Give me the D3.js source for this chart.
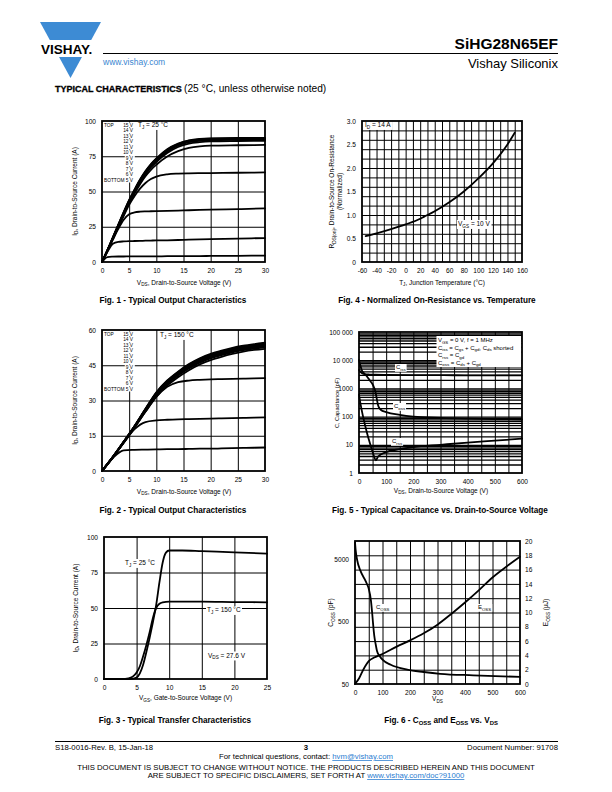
<!DOCTYPE html>
<html><head><meta charset="utf-8">
<script src="https://cdn.jsdelivr.net/npm/d3@7"></script>
<style>body{margin:0;background:#fff}</style>
</head><body>
<svg id="page" width="612" height="792" xmlns="http://www.w3.org/2000/svg"></svg>
<script>
// ---------------- DATA ----------------
// Fig 1: output characteristics, TJ = 25 C
const fig1Vds = [0,1,2,3,4,5,6,7,8,9,10,12,14,16,18,20,25,30];
const fig1_15V = [0,8.5,17.5,26.5,35.5,44,51.5,58.5,64.5,69.5,73.5,80,84,86.3,87.3,87.7,88,88];
const fig1_14V = [0,8.4,17.4,26.3,35.2,43.7,51.1,58.1,64.1,69.1,73.1,79.6,83.7,86,87,87.4,87.7,87.7];
const fig1_13V = [0,8.3,17.2,26.1,34.9,43.4,50.8,57.7,63.7,68.7,72.7,79.2,83.3,85.7,86.7,87.1,87.4,87.4];
const fig1_12V = [0,8.2,17,25.8,34.6,43,50.4,57.3,63.3,68.3,72.3,78.8,83,85.4,86.4,86.8,87.1,87.1];
const fig1_11V = [0,8.2,16.9,25.6,34.3,42.7,50,56.9,62.9,67.9,71.9,78.4,82.6,85,86,86.4,86.7,86.8];
const fig1_10V = [0,8.1,16.7,25.3,33.9,42.2,49.4,56.2,62.1,67,70.9,77.3,81.6,84,85,85.5,85.8,86];
const fig1_9V  = [0,8,16.5,25,33.5,41.7,48.7,55.2,60.8,65.4,69,74.8,78.6,80.9,82,82.5,82.8,83];
const fig1_8V  = [0,8,16.3,24.6,32.8,40.5,46.8,52,56,58.8,60.6,62.2,62.7,62.9,63,63.1,63.3,63.5];
const fig1_7V  = [0,7.8,15.8,23.5,30,33.8,35.2,35.7,35.9,36,36.1,36.3,36.5,36.7,36.9,37.1,37.5,38];
const fig1_6V  = [0,7.2,13,14.3,14.6,14.8,14.9,15,15.1,15.2,15.3,15.4,15.6,15.8,16,16.2,16.6,17];
const fig1_5V  = [0,3.5,3.8,3.9,3.9,4,4,4,4,4,4,4.1,4.1,4.2,4.2,4.3,4.4,4.5];
const gateLabels = ["15 V","14 V","13 V","12 V","11 V","10 V","9 V","8 V","7 V","6 V","5 V"];

// Fig 2: output characteristics, TJ = 150 C
const fig2Vds = [0,2,4,6,8,10,12,14,16,18,20,22,24,26,28,30];
const fig2_15V = [0,6,12.5,19.2,26.5,33.5,38.5,42.3,45.5,48,49.8,51.2,52.4,53.3,54,54.6];
const fig2_14V = [0,6,12.5,19.2,26.4,33.3,38.3,42,45.2,47.7,49.5,50.9,52.1,53,53.7,54.3];
const fig2_13V = [0,6,12.4,19.1,26.3,33.1,38.1,41.8,44.9,47.4,49.2,50.6,51.8,52.7,53.4,54];
const fig2_12V = [0,6,12.4,19,26.2,32.9,37.9,41.5,44.6,47.1,48.9,50.3,51.5,52.4,53.1,53.7];
const fig2_11V = [0,5.9,12.3,18.9,26,32.7,37.6,41.2,44.3,46.8,48.6,50,51.2,52.1,52.8,53.4];
const fig2_10V = [0,5.9,12.3,18.8,25.8,32.4,37.3,40.9,44,46.5,48.3,49.7,50.9,51.8,52.5,53];
const fig2_9V  = [0,5.9,12.2,18.7,25.6,32.1,37,40.6,43.6,46.1,47.9,49.3,50.5,51.4,52.1,52.6];
const fig2_8V  = [0,5.8,12.1,18.5,25.3,31.6,36.3,39.9,42.9,45.4,47.2,48.6,49.8,50.8,51.5,52];
const fig2_7V  = [0,5.8,12,18.5,25.2,31.5,35.8,37.8,38.5,38.8,39,39.1,39.2,39.3,39.4,39.5];
const fig2_6V  = [0,5.8,12,17.8,20.8,21.5,21.8,22,22.1,22.2,22.3,22.4,22.5,22.6,22.7,22.8];
const fig2_5V  = [0,5.5,8.8,9,9.1,9.2,9.3,9.3,9.4,9.5,9.5,9.6,9.7,9.8,9.9,10];

// Fig 3: transfer characteristics
const fig3Vgs25  = [0,4,4.5,5,5.5,6,6.5,7,7.5,8,8.5,9,9.5,10,12,15,20,25];
const fig3Id25   = [0,0,0.2,1,4,10,19,29,40,52,68,82,89,90.5,90.5,90,89.2,88.3];
const fig3Vgs150 = [0,3,3.5,4,4.5,5,5.5,6,6.5,7,7.5,8,8.5,9,10,15,20,25];
const fig3Id150  = [0,0,0.2,0.8,2,4.5,9,16,24,33,43,50,53,54,54.5,54.5,54.2,54];

// Fig 4: normalized on-resistance vs temperature
const fig4Tj   = [-55,-40,-20,0,20,25,40,60,80,100,120,140,150];
const fig4Rnorm= [0.55,0.61,0.7,0.8,0.92,0.96,1.08,1.27,1.5,1.78,2.1,2.5,2.75];

// Fig 5: capacitance vs VDS
const fig5CissV = [0,10,20,40,60,100,200,300,400,500,600];
const fig5Ciss  = [4500,3500,3200,3100,3050,3000,2950,2950,2900,2900,2900];
const fig5CossV = [0,5,10,20,30,40,50,55,60,65,70,75,80,100,150,200,300,400,500,600];
const fig5Coss  = [10000,6500,4500,3300,2600,1900,1400,1100,800,450,260,200,175,145,115,100,90,85,82,80];
const fig5CrssV = [0,5,15,30,45,55,62,70,100,150,200,300,400,500,600];
const fig5Crss  = [600,300,100,25,8,4,2.8,3.8,5.5,7,8.3,10,12,14,16.5];
const fig5YTicks = [1,10,100,1000,10000,100000];
const fig5YLabels = ["1","10","100","1000","10 000","100 000"];

// Fig 6: Coss and Eoss vs VDS
const fig6CossV = [0,2,8,20,40,50,58,63,66,70,75,80,90,100,130,190,250,310,430,600];
const fig6Coss  = [9500,7400,4900,3300,2200,1700,1100,650,450,300,220,170,140,123,102,85,78,73,69,65];
const fig6EossV = [0,15,30,50,70,100,150,200,250,300,350,400,450,500,550,600];
const fig6Eoss  = [0,0.8,2.0,3.2,3.7,4.2,5.2,6.1,7.1,8.3,9.8,11.4,13.1,14.9,16.4,17.8];

// ---------------- HELPERS ----------------
const FONT = "'Liberation Sans', Arial, Helvetica, sans-serif";
const svg = d3.select("#page").attr("font-family", FONT);
svg.append("rect").attr("width",612).attr("height",792).attr("fill","#fff");

function label(parent, x, y, parts, o = {}) {
  const fs = o.fs || 6;
  const t = parent.append("text").attr("x", x).attr("y", y)
    .attr("font-size", fs).attr("font-family", FONT)
    .attr("text-anchor", o.anchor || "start")
    .attr("font-weight", o.weight || "normal")
    .attr("fill", o.fill || "#000");
  if (o.rotate) t.attr("transform", `rotate(${o.rotate},${x},${y})`);
  let shift = 0;
  (typeof parts === "string" ? [parts] : parts).forEach(p => {
    const sub = Array.isArray(p);
    const target = sub ? fs * 0.3 : 0;
    const ts = t.append("tspan").text(sub ? p[0] : p).attr("font-size", sub ? fs * 0.72 : fs);
    if (target - shift !== 0) ts.attr("dy", target - shift);
    shift = target;
  });
  if (o.bg) {
    const b = t.node().getBBox();
    parent.insert("rect", () => t.node())
      .attr("x", b.x - 1).attr("y", b.y).attr("width", b.width + 2).attr("height", b.height)
      .attr("fill", "#fff");
  }
  return t;
}

function chart(c) {
  const g = svg.append("g");
  const x = c.x.range([c.L, c.R]);
  const y = c.y.range([c.B, c.T]);
  g.append("rect").attr("x", c.L).attr("y", c.T).attr("width", c.R - c.L).attr("height", c.B - c.T).attr("fill", "#fff");
  g.append("g").attr("transform", `translate(0,${c.B})`)
    .call(d3.axisBottom(x).tickValues(c.xGrid).tickSize(-(c.B - c.T)).tickFormat(""))
    .call(s => { s.select(".domain").remove(); s.selectAll("line").attr("stroke", "#000").attr("stroke-width", c.gxw || 1); });
  const gy = c.yGridScale || y;
  g.append("g").attr("transform", `translate(${c.L},0)`)
    .call(d3.axisLeft(gy).tickValues(c.yGrid).tickSize(-(c.R - c.L)).tickFormat(""))
    .call(s => { s.select(".domain").remove(); s.selectAll("line").attr("stroke", "#000").attr("stroke-width", c.gyw || 1); });
  (c.series || []).forEach(s => {
    const ys = s.scale || y;
    const line = d3.line().x(d => x(d[0])).y(d => ys(d[1])).curve(d3.curveMonotoneX);
    g.append("path").datum(d3.zip(s.x, s.y)).attr("d", line)
      .attr("fill", "none").attr("stroke", "#000").attr("stroke-width", s.w || 1.8)
      .attr("stroke-linejoin", "round").attr("stroke-linecap", "round");
  });
  if (c.labels) c.labels(g, x, y);
  g.append("rect").attr("x", c.L).attr("y", c.T).attr("width", c.R - c.L).attr("height", c.B - c.T)
    .attr("fill", "none").attr("stroke", "#000").attr("stroke-width", 1.8);
  const styleTicks = s => { s.select(".domain").remove(); s.selectAll("text").attr("font-size", 6.6).attr("font-family", FONT).attr("fill", "#000"); };
  g.append("g").attr("transform", `translate(0,${c.B})`)
    .call(d3.axisBottom(x).tickValues(c.xTicks).tickSize(0).tickPadding(c.xPad || 6).tickFormat(c.xFmt || (d => d)))
    .call(styleTicks);
  g.append("g").attr("transform", `translate(${c.L},0)`)
    .call(d3.axisLeft(y).tickValues(c.yTicks).tickSize(0).tickPadding(c.yPad || 6).tickFormat(c.yFmt || (d => d)))
    .call(styleTicks);
  if (c.y2) {
    g.append("g").attr("transform", `translate(${c.R},0)`)
      .call(d3.axisRight(c.y2).tickValues(c.y2Ticks).tickSize(0).tickPadding(5))
      .call(styleTicks);
  }
  return g;
}

const AT = 6.5;   // axis title size
const CAP = 8.2;  // caption size

// ---------------- HEADER ----------------
const head = svg.append("g");
head.append("polygon").attr("points", "40,22 101,22 70.5,78").attr("fill", "#3d8bd4");
head.append("rect").attr("x", 36).attr("y", 40).attr("width", 70).attr("height", 17).attr("fill", "#fff");
label(head, 41, 53.5, "VISHAY.", { fs: 13.5, weight: "bold" });
head.append("line").attr("x1", 103).attr("x2", 558).attr("y1", 53.5).attr("y2", 53.5).attr("stroke", "#000").attr("stroke-width", 1);
label(head, 103, 64.5, "www.vishay.com", { fs: 8.5, fill: "#3b86d0" });
label(head, 558, 49, "SiHG28N65EF", { fs: 15.5, weight: "bold", anchor: "end" });
label(head, 558, 68, "Vishay Siliconix", { fs: 13, anchor: "end" });
label(head, 55, 92, "TYPICAL CHARACTERISTICS", { fs: 9, weight: "bold" })
  .attr("stroke", "#000").attr("stroke-width", 0.3);
label(head, 184, 92, "(25 °C, unless otherwise noted)", { fs: 10.2 });

// ---------------- FIG 1 ----------------
const f1s = [fig1_15V, fig1_14V, fig1_13V, fig1_12V, fig1_11V, fig1_10V, fig1_9V, fig1_8V, fig1_7V, fig1_6V, fig1_5V];
function legendList(g, top) {
  label(g, 104, top, "TOP", { fs: 4.8, bg: true });
  gateLabels.forEach((t, i) => label(g, 133, top + i * 5.5, t, { fs: 4.8, anchor: "end", bg: true }));
  label(g, 104, top + 10 * 5.5, "BOTTOM", { fs: 4.8, bg: true });
}
chart({
  L: 102, R: 265, T: 121, B: 262,
  x: d3.scaleLinear().domain([0, 30]), y: d3.scaleLinear().domain([0, 100]),
  xGrid: [5, 10, 15, 20, 25], yGrid: [25, 50, 75],
  xTicks: [0, 5, 10, 15, 20, 25, 30], yTicks: [0, 25, 50, 75, 100],
  series: f1s.map(v => ({ x: fig1Vds, y: v })),
  labels: g => { legendList(g, 126.5); label(g, 138, 127, ["T", ["J"], " = 25 °C"], { fs: 6.5, bg: true }); }
});
label(svg, 76.5, 191.5, ["I", ["D"], ", Drain-to-Source Current (A)"], { fs: AT, anchor: "middle", rotate: -90 });
label(svg, 184, 284.5, ["V", ["DS"], ", Drain-to-Source Voltage (V)"], { fs: AT, anchor: "middle" });
label(svg, 173, 302.5, "Fig. 1 - Typical Output Characteristics", { fs: CAP, weight: "bold", anchor: "middle" });

// ---------------- FIG 2 ----------------
const f2s = [fig2_15V, fig2_14V, fig2_13V, fig2_12V, fig2_11V, fig2_10V, fig2_9V, fig2_8V, fig2_7V, fig2_6V, fig2_5V];
chart({
  L: 102, R: 265, T: 330, B: 471,
  x: d3.scaleLinear().domain([0, 30]), y: d3.scaleLinear().domain([0, 60]),
  xGrid: [5, 10, 15, 20, 25], yGrid: [15, 30, 45],
  xTicks: [0, 5, 10, 15, 20, 25, 30], yTicks: [0, 15, 30, 45, 60],
  series: f2s.map(v => ({ x: fig2Vds, y: v })),
  labels: g => { legendList(g, 335.5); label(g, 160, 337, ["T", ["J"], " = 150 °C"], { fs: 6.5, bg: true }); }
});
label(svg, 76.5, 400.5, ["I", ["D"], ", Drain-to-Source Current (A)"], { fs: AT, anchor: "middle", rotate: -90 });
label(svg, 184, 493.5, ["V", ["DS"], ", Drain-to-Source Voltage (V)"], { fs: AT, anchor: "middle" });
label(svg, 173, 512.5, "Fig. 2 - Typical Output Characteristics", { fs: CAP, weight: "bold", anchor: "middle" });

// ---------------- FIG 3 ----------------
chart({
  L: 104, R: 267, T: 537, B: 679,
  x: d3.scaleLinear().domain([0, 25]), y: d3.scaleLinear().domain([0, 100]),
  xGrid: [5, 10, 15, 20], yGrid: [25, 50, 75],
  xTicks: [0, 5, 10, 15, 20, 25], yTicks: [0, 25, 50, 75, 100],
  series: [{ x: fig3Vgs25, y: fig3Id25 }, { x: fig3Vgs150, y: fig3Id150 }],
  labels: g => {
    label(g, 125, 565, ["T", ["J"], " = 25 °C"], { fs: 6.5, bg: true });
    label(g, 207, 612, ["T", ["J"], " = 150 °C"], { fs: 6.5, bg: true });
    label(g, 208, 657.5, ["V", ["DS"], " = 27.6 V"], { fs: 6.5, bg: true });
  }
});
label(svg, 77.5, 608, ["I", ["D"], ", Drain-to-Source Current (A)"], { fs: AT, anchor: "middle", rotate: -90 });
label(svg, 185.5, 700, ["V", ["GS"], ", Gate-to-Source Voltage (V)"], { fs: AT, anchor: "middle" });
label(svg, 175, 722.5, "Fig. 3 - Typical Transfer Characteristics", { fs: CAP, weight: "bold", anchor: "middle" });

// ---------------- FIG 4 ----------------
chart({
  L: 362, R: 522, T: 121, B: 262,
  x: d3.scaleLinear().domain([-60, 160]), y: d3.scaleLinear().domain([0, 3]),
  xGrid: d3.range(-50, 160, 10), yGrid: d3.range(1, 15).map(i => i * 0.2),
  xTicks: d3.range(-60, 161, 20), yTicks: [0, 0.5, 1, 1.5, 2, 2.5, 3],
  yFmt: d => d === 0 ? "0" : d3.format(".1f")(d),
  series: [{ x: fig4Tj, y: fig4Rnorm }],
  labels: g => {
    label(g, 365, 127, ["I", ["D"], " = 14 A"], { fs: 6.5, bg: true });
    label(g, 458, 226, ["V", ["GS"], " = 10 V"], { fs: 6.5, bg: true });
  }
});
label(svg, 334, 191.5, ["R", ["DS(on)"], ", Drain-to-Source On-Resistance"], { fs: AT, anchor: "middle", rotate: -90 });
label(svg, 342, 191.5, "(Normalized)", { fs: AT, anchor: "middle", rotate: -90 });
label(svg, 442, 284.5, ["T", ["J"], ", Junction Temperature (°C)"], { fs: AT, anchor: "middle" });
label(svg, 437, 302.5, "Fig. 4 -  Normalized On-Resistance vs. Temperature", { fs: CAP, weight: "bold", anchor: "middle" });

// ---------------- FIG 5 ----------------
const y5 = d3.scaleLog().domain([1, 100000]);
chart({
  L: 359, R: 522, T: 332, B: 473,
  x: d3.scaleLinear().domain([0, 600]), y: y5,
  xGrid: d3.range(50, 600, 50), yGrid: y5.ticks().filter(v => v > 1 && v < 100000), gyw: 1.3,
  xTicks: [0, 100, 200, 300, 400, 500, 600], yTicks: fig5YTicks,
  yFmt: d => fig5YLabels[fig5YTicks.indexOf(d)],
  series: [{ x: fig5CissV, y: fig5Ciss }, { x: fig5CossV, y: fig5Coss }, { x: fig5CrssV, y: fig5Crss }],
  labels: g => {
    g.append("rect").attr("x", 436.5).attr("y", 336).attr("width", 85).attr("height", 31).attr("fill", "#fff");
    label(g, 438, 342, ["V", ["GS"], " = 0 V, f = 1 MHz"], { fs: 6 });
    label(g, 438, 349.5, ["C", ["iss"], " = C", ["gs"], " + C", ["gd"], ", C", ["ds"], " shorted"], { fs: 6 });
    label(g, 438, 357, ["C", ["rss"], " = C", ["gd"]], { fs: 6 });
    label(g, 438, 364.5, ["C", ["oss"], " = C", ["ds"], " + C", ["gd"]], { fs: 6 });
    label(g, 396, 369, ["C", ["iss"]], { fs: 6, bg: true });
    label(g, 394, 408, ["C", ["oss"]], { fs: 6, bg: true });
    label(g, 392, 443, ["C", ["rss"]], { fs: 6, bg: true });
  }
});
label(svg, 338.5, 403, "C, Capacitance (pF)", { fs: 5.6, anchor: "middle", rotate: -90 });
label(svg, 441, 492.5, ["V", ["DS"], ", Drain-to-Source Voltage (V)"], { fs: AT, anchor: "middle" });
label(svg, 440, 512.5, "Fig. 5 - Typical Capacitance vs. Drain-to-Source Voltage", { fs: CAP, weight: "bold", anchor: "middle" });

// ---------------- FIG 6 ----------------
const y6 = d3.scaleLog().domain([50, 10000]);
const y6r = d3.scaleLinear().domain([0, 20]).range([684, 541]);
chart({
  L: 355, R: 520, T: 541, B: 684,
  x: d3.scaleLinear().domain([0, 600]), y: y6,
  xGrid: d3.range(50, 600, 50), yGrid: d3.range(2, 20, 2), yGridScale: y6r,
  xTicks: [0, 100, 200, 300, 400, 500, 600], yTicks: [50, 500, 5000],
  y2: y6r, y2Ticks: d3.range(0, 21, 2),
  series: [{ x: fig6CossV, y: fig6Coss }, { x: fig6EossV, y: fig6Eoss, scale: y6r }],
  labels: g => {
    label(g, 376, 609, ["C", ["OSS"]], { fs: 6, bg: true });
    label(g, 478, 609, ["E", ["OSS"]], { fs: 6, bg: true });
  }
});
label(svg, 333, 612.5, ["C", ["OSS"], " (pF)"], { fs: AT, anchor: "middle", rotate: -90 });
label(svg, 548, 612.5, ["E", ["OSS"], " (µJ)"], { fs: AT, anchor: "middle", rotate: -90 });
label(svg, 437.5, 701, ["V", ["DS"]], { fs: AT, anchor: "middle" });
label(svg, 441, 722.5, ["Fig. 6 - C", ["OSS"], " and E", ["OSS"], " vs. V", ["DS"]], { fs: CAP, weight: "bold", anchor: "middle" });

// ---------------- FOOTER ----------------
const foot = svg.append("g");
const FF = 7.75;
foot.append("line").attr("x1", 55).attr("x2", 558).attr("y1", 741.5).attr("y2", 741.5).attr("stroke", "#000").attr("stroke-width", 1);
label(foot, 55, 750, "S18-0016-Rev. B, 15-Jan-18", { fs: FF });
label(foot, 306, 750, "3", { fs: FF, weight: "bold", anchor: "middle" });
label(foot, 558, 750, "Document Number: 91708", { fs: FF, anchor: "end" });
const q = label(foot, 306, 759, "For technical questions, contact: ", { fs: FF, anchor: "middle" });
q.append("tspan").attr("fill", "#2a7dd1").attr("text-decoration", "underline").text("hvm@vishay.com");
label(foot, 306, 770, "THIS DOCUMENT IS SUBJECT TO CHANGE WITHOUT NOTICE. THE PRODUCTS DESCRIBED HEREIN AND THIS DOCUMENT", { fs: FF, anchor: "middle" });
const a = label(foot, 306, 778, "ARE SUBJECT TO SPECIFIC DISCLAIMERS, SET FORTH AT ", { fs: FF, anchor: "middle" });
a.append("tspan").attr("fill", "#2a7dd1").attr("text-decoration", "underline").text("www.vishay.com/doc?91000");
</script>
</body></html>
